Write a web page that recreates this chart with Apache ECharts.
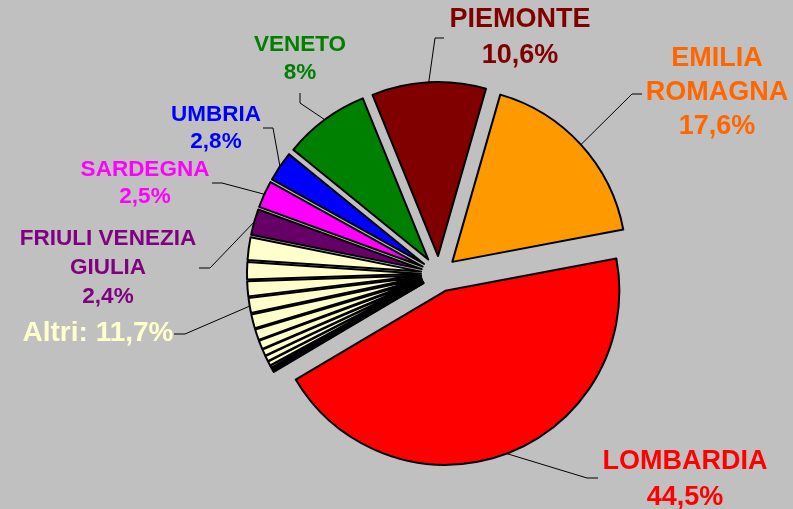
<!DOCTYPE html>
<html>
<head>
<meta charset="utf-8">
<script src="https://cdn.jsdelivr.net/npm/echarts@6/dist/echarts.min.js"></script>
<style>
  html, body { margin: 0; padding: 0; background: #c0c0c0; }
  #main { width: 793px; height: 509px; }
</style>
</head>
<body>
<div id="main"></div>
<script>
// regions, clockwise from the top; the "Altri" group sits after LOMBARDIA
const regionNames = ['EMILIA\nROMAGNA', 'LOMBARDIA', 'FRIULI VENEZIA\nGIULIA', 'SARDEGNA', 'UMBRIA', 'VENETO', 'PIEMONTE']
const regionShares = [17.6, 44.5, 2.4, 2.5, 2.8, 8, 10.6]
const altriShares = [0.1, 0.1, 0.2, 0.2, 0.4, 0.5, 0.6, 0.8, 1.0, 1.3, 1.4, 1.4, 1.6, 2.1]
const altriLabel = 'Altri'
const altriAfter = 1

const sliceColors = ['#ff9900', '#ff0000', '#660066', '#ff00ff', '#0000ff', '#008000', '#800000']
const labelColors = ['#ff6600', '#ff0000', '#800080', '#ff00ff', '#0000ff', '#008000', '#800000']
const altriColor = '#ffffcc'

// label placement (centre of text block) and leader line bend/end points
const labelSpots = [
    { x: 717, y: 93, size: 27, lh: 34, bend: [632, 94], end: [642, 94] },
    { x: 685, y: 480, size: 27, lh: 36, bend: [587, 478], end: [598, 478] },
    { x: 108, y: 268, size: 22.5, lh: 29, bend: [210, 268], end: [199, 268] },
    { x: 145, y: 183, size: 22.5, lh: 27, bend: [222, 183], end: [212, 183] },
    { x: 216, y: 128, size: 22.5, lh: 27, bend: [273, 128], end: [263, 128] },
    { x: 300, y: 59, size: 22.5, lh: 28, bend: [300, 103], end: [300, 93] },
    { x: 520, y: 38, size: 27, lh: 36, bend: [435, 38], end: [444, 38] }
]
const altriSpot = { x: 98, y: 333, size: 28, lh: 30, bend: [185, 334], end: [174, 334] }

const cx = 439, cy = 274, R = 174, OFF = 18, START = 16

const fmt = v => String(v).replace('.', ',') + '%'

// build pie data in drawing order
const slices = []
const labelItems = []
const spots = []
const mids = []
let total = 0
regionShares.forEach(v => total += v)
altriShares.forEach(v => total += v)
const altriSum = altriShares.reduce((a, b) => a + b, 0)

let acc = 0
const pushItem = (value, color, text, labelColor, spot, mid) => {
    const m = mid != null ? mid : acc + value / 2
    slices.push({ value: value, selected: true, itemStyle: { color: color } })
    labelItems.push({
        value: value,
        label: text ? { show: true, formatter: text, color: labelColor, fontSize: spot.size, lineHeight: spot.lh } : { show: false },
        labelLine: { show: !!text }
    })
    spots.push(spot)
    mids.push(START + m / total * 360)
    acc += value
}
regionNames.forEach((name, i) => {
    pushItem(regionShares[i], sliceColors[i], name + '\n' + fmt(regionShares[i]), labelColors[i], labelSpots[i])
    if (i === altriAfter) {
        const groupMid = acc + altriSum / 2
        const labelIdx = Math.floor(altriShares.length * 0.6)
        altriShares.forEach((v, j) => {
            if (j === labelIdx) {
                pushItem(v, altriColor, altriLabel + ': ' + fmt(altriSum.toFixed(1)), altriColor, altriSpot, groupMid)
            } else {
                pushItem(v, altriColor, null, null, null)
            }
        })
    }
})

const myChart = echarts.init(document.getElementById('main'))
const option = {
    backgroundColor: '#c0c0c0',
    animation: false,
    series: [
        {
            // exploded slices
            type: 'pie',
            center: [cx, cy],
            radius: R,
            startAngle: 90 - START,
            clockwise: true,
            selectedMode: 'multiple',
            selectedOffset: OFF,
            emphasis: { disabled: true },
            itemStyle: { borderColor: '#000', borderWidth: 2, borderRadius: 0 },
            select: { itemStyle: { borderColor: '#000', borderWidth: 2 } },
            label: { show: false },
            labelLine: { show: false },
            data: slices
        },
        {
            // transparent twin that carries the labels
            type: 'pie',
            center: [cx, cy],
            radius: R,
            startAngle: 90 - START,
            clockwise: true,
            silent: true,
            avoidLabelOverlap: false,
            emphasis: { disabled: true },
            itemStyle: { color: 'rgba(0,0,0,0)', borderWidth: 0 },
            label: {
                position: 'outside',
                fontFamily: 'Liberation Sans',
                fontWeight: 'bold',
                textBorderWidth: 0
            },
            labelLine: { lineStyle: { color: '#000', width: 1 }, length: 10, length2: 10 },
            labelLayout: params => {
                const spot = spots[params.dataIndex]
                if (!spot) return {}
                const a = mids[params.dataIndex] * Math.PI / 180
                const anchor = [cx + (R + OFF) * Math.sin(a), cy - (R + OFF) * Math.cos(a)]
                return {
                    x: spot.x,
                    y: spot.y,
                    align: 'center',
                    verticalAlign: 'middle',
                    labelLinePoints: [anchor, spot.bend, spot.end]
                }
            },
            data: labelItems
        }
    ]
}
myChart.setOption(option)
</script>
</body>
</html>
